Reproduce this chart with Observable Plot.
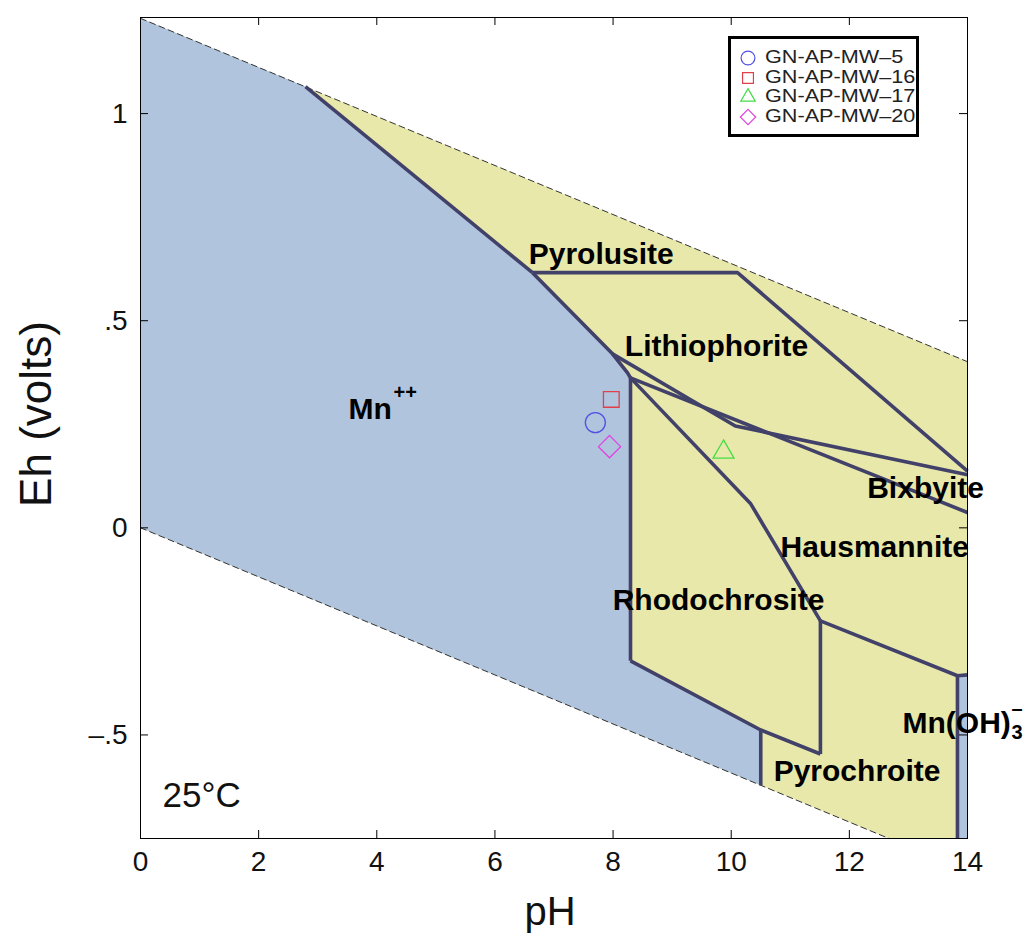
<!DOCTYPE html>
<html><head><meta charset="utf-8">
<script src="https://cdn.jsdelivr.net/npm/d3@7"></script>
<script src="https://cdn.jsdelivr.net/npm/@observablehq/plot@0.6"></script>
<style>
body{margin:0;background:#fff;}
#wrap{position:relative;width:1024px;height:936px;font-family:"Liberation Sans",Arial,sans-serif;}
#legend{position:absolute;left:728px;top:36px;width:185px;height:95px;border:3px solid #000;background:#fff;}
.lrow{position:absolute;left:0;height:19px;width:185px;}
.lrow svg{position:absolute;left:7px;top:0;}
.lrow span{position:absolute;left:34px;top:-1px;font-size:18.5px;line-height:20px;color:#222;white-space:nowrap;transform:scaleX(1.17);transform-origin:0 50%;}
</style></head><body><div id="wrap"></div>
<script>
// ---- axes ----
const xDomain = [0, 14];
const yDomain = [-0.75, 1.232];
const xTicks = [0, 2, 4, 6, 8, 10, 12, 14];
const yTicks = [-0.5, 0, 0.5, 1];
const yTickLabels = ["\u2013.5", "0", ".5", "1"];

// ---- water stability limits ----
const waterUpper = [[0, 1.23], [14, 0.401]];
const waterLower = [[0, 0], [12.67, -0.75]];
const stabilityField = [[0, 1.23], [14, 0.401], [14, -0.75], [12.67, -0.75], [0, 0]];

// ---- aqueous fields (blue) ----
const mnIonField = [[0, 1.23], [2.793, 1.065], [6.636, 0.616], [7.99, 0.420], [8.245, 0.374], [8.295, 0.362],
  [8.295, -0.321], [10.5, -0.488], [10.5, -0.6216], [0, 0]];
const mnOH3Field = [[13.83, -0.357], [14, -0.355], [14, -0.75], [13.83, -0.75]];

// ---- field boundaries ----
const bMnPyrolusite = [[2.793, 1.065], [6.636, 0.616]];
const bMnLithio = [[6.636, 0.616], [7.99, 0.420], [8.245, 0.374], [8.295, 0.362]];
const bMnRhodo = [[8.295, 0.362], [8.295, -0.321]];
const bRhodoBottom = [[8.295, -0.321], [10.5, -0.488], [11.51, -0.546]];
const bMnPyrochroite = [[10.5, -0.488], [10.5, -0.6216]];
const bRhodoPyro = [[11.51, -0.546], [11.51, -0.2246]];
const bHausRhodo = [[8.295, 0.362], [10.33, 0.058], [11.51, -0.2246]];
const bHausPyro = [[11.51, -0.2246], [13.83, -0.357], [14, -0.355]];
const bMnOH3 = [[13.83, -0.357], [13.83, -0.75]];
const bPyroLithio = [[6.636, 0.616], [10.107, 0.616], [14, 0.137]];
const bLithioBix = [[7.99, 0.420], [10.07, 0.246], [14, 0.128]];
const bBixHaus = [[8.295, 0.362], [14, 0.037]];

// ---- field labels ----
const fieldNames = ["Pyrolusite", "Lithiophorite", "Bixbyite", "Hausmannite", "Rhodochrosite", "Pyrochroite"];
const fieldPH = [7.80, 9.75, 13.29, 12.43, 9.785, 12.13];
const fieldEh = [0.661, 0.439, 0.096, -0.047, -0.174, -0.587];
const mnIonLabel = {pH: 3.521, Eh: 0.287};
const mnOH3Label = {pH: 12.90, Eh: -0.471};

// ---- samples ----
const sampleNames = ["GN-AP-MW\u20135", "GN-AP-MW\u201316", "GN-AP-MW\u201317", "GN-AP-MW\u201320"];
const samplePH = [7.70, 7.97, 9.87, 7.94];
const sampleEh = [0.254, 0.310, 0.183, 0.196];
const sampleColors = ["#5050e6", "#e0404c", "#44dd44", "#e044e0"];
const sampleSymbols = ["circle", "square2", "triangle2", "diamond2"];

// ---- build tables ----
const pts = (arr, id) => arr.map(([x, y]) => ({x, y, id}));
const boundaryTable = [
  ...pts(bMnPyrolusite, "a"), ...pts(bMnLithio, "b"), ...pts(bMnRhodo, "c"), ...pts(bRhodoBottom, "d"),
  ...pts(bMnPyrochroite, "e"), ...pts(bRhodoPyro, "f"), ...pts(bHausRhodo, "g"), ...pts(bHausPyro, "h"),
  ...pts(bMnOH3, "i"), ...pts(bPyroLithio, "j"), ...pts(bLithioBix, "k"), ...pts(bBixHaus, "l")
];
const fields = fieldNames.map((name, i) => ({name, pH: fieldPH[i], Eh: fieldEh[i]}));
const samples = sampleNames.map((name, i) => ({name, pH: samplePH[i], Eh: sampleEh[i]}));
const yTickData = yTicks.map((v, i) => ({v, label: yTickLabels[i]}));

const lineColor = "#414169";
const font = "Liberation Sans, Arial, sans-serif";

const chart = Plot.plot({
  width: 1024, height: 936,
  marginLeft: 140, marginRight: 57, marginTop: 17, marginBottom: 98,
  x: {domain: xDomain, axis: null},
  y: {domain: yDomain, axis: null},
  color: {domain: sampleNames, range: sampleColors},
  symbol: {domain: sampleNames, range: sampleSymbols},
  style: {fontFamily: font, background: "white", overflow: "visible"},
  marks: [
    Plot.line(pts(stabilityField), {x: "x", y: "y", fill: "#e8e8ab", stroke: "none"}),
    Plot.line(pts(mnIonField), {x: "x", y: "y", fill: "#b0c4de", stroke: "none"}),
    Plot.line(pts(mnOH3Field), {x: "x", y: "y", fill: "#b0c4de", stroke: "none"}),
    Plot.line(pts(waterUpper), {x: "x", y: "y", stroke: "#333", strokeWidth: 1, strokeDasharray: "6,4"}),
    Plot.line(pts(waterLower), {x: "x", y: "y", stroke: "#333", strokeWidth: 1, strokeDasharray: "6,4"}),
    Plot.line(boundaryTable, {x: "x", y: "y", z: "id", stroke: lineColor, strokeWidth: 3.6, strokeLinejoin: "round", strokeLinecap: "butt"}),
    Plot.frame({stroke: "#000", strokeWidth: 1}),
    // inward ticks
    Plot.ruleX(xTicks, {x: d => d, y1: yDomain[0], y2: yDomain[0], insetTop: -8, stroke: "#000"}),
    Plot.ruleX(xTicks, {x: d => d, y1: yDomain[1], y2: yDomain[1], insetBottom: -8, stroke: "#000"}),
    Plot.ruleY(yTicks, {y: d => d, x1: xDomain[0], x2: xDomain[0], insetRight: -8, stroke: "#000"}),
    Plot.ruleY(yTicks, {y: d => d, x1: xDomain[1], x2: xDomain[1], insetLeft: -8, stroke: "#000"}),
    // tick labels
    Plot.text(xTicks, {x: d => d, frameAnchor: "bottom", lineAnchor: "top", dy: 13, text: d => String(d), fontSize: 28, fill: "#111"}),
    Plot.text(yTickData, {y: "v", frameAnchor: "left", textAnchor: "end", dx: -13, text: "label", fontSize: 28, fill: "#111"}),
    // axis titles
    Plot.text(["pH"], {frameAnchor: "bottom", lineAnchor: "top", dx: -4, dy: 58, text: d => d, fontSize: 40, fill: "#111"}),
    Plot.text(["Eh (volts)"], {frameAnchor: "left", textAnchor: "middle", rotate: -90, dx: -104, dy: -14, text: d => d, fontSize: 44, fill: "#111"}),
    Plot.text(["25\u00b0C"], {frameAnchor: "bottom-left", textAnchor: "start", dx: 22, dy: -32, text: d => d, fontSize: 35, fill: "#111"}),
    // field labels
    Plot.text(fields, {x: "pH", y: "Eh", text: "name", fontSize: 30, fontWeight: "bold", fill: "#000"}),
    Plot.text([mnIonLabel], {x: "pH", y: "Eh", text: () => "Mn", textAnchor: "start", fontSize: 30, fontWeight: "bold", fill: "#000"}),
    Plot.text([mnIonLabel], {x: "pH", y: "Eh", text: () => "++", textAnchor: "start", dx: 45, dy: -16, fontSize: 20, fontWeight: "bold", fill: "#000"}),
    Plot.text([mnOH3Label], {x: "pH", y: "Eh", text: () => "Mn(OH)", textAnchor: "start", fontSize: 30, fontWeight: "bold", fill: "#000"}),
    Plot.text([mnOH3Label], {x: "pH", y: "Eh", text: () => "3", textAnchor: "start", dx: 109, dy: 10, fontSize: 20, fontWeight: "bold", fill: "#000"}),
    Plot.text([mnOH3Label], {x: "pH", y: "Eh", text: () => "\u2013", textAnchor: "start", dx: 109, dy: -14, fontSize: 20, fontWeight: "bold", fill: "#000"}),
    // samples
    Plot.dot(samples, {x: "pH", y: "Eh", symbol: "name", stroke: "name", fill: "none", r: 10, strokeWidth: 1.3})
  ]
});

const wrap = document.getElementById("wrap");
wrap.appendChild(chart);

// legend
const symMap = {circle: d3.symbolCircle, square2: d3.symbolSquare2, triangle2: d3.symbolTriangle2, diamond2: d3.symbolDiamond2};
const legend = document.createElement("div");
legend.id = "legend";
sampleNames.forEach((name, i) => {
  const row = document.createElement("div");
  row.className = "lrow";
  row.style.top = (9 + i * 19.6) + "px";
  const svg = d3.create("svg").attr("width", 20).attr("height", 20);
  svg.append("path")
    .attr("transform", "translate(10,10)")
    .attr("d", d3.symbol(symMap[sampleSymbols[i]], 150)())
    .attr("fill", "none").attr("stroke", sampleColors[i]).attr("stroke-width", 1.2);
  row.appendChild(svg.node());
  const span = document.createElement("span");
  span.textContent = name;
  row.appendChild(span);
  legend.appendChild(row);
});
wrap.appendChild(legend);
</script>
</body></html>
